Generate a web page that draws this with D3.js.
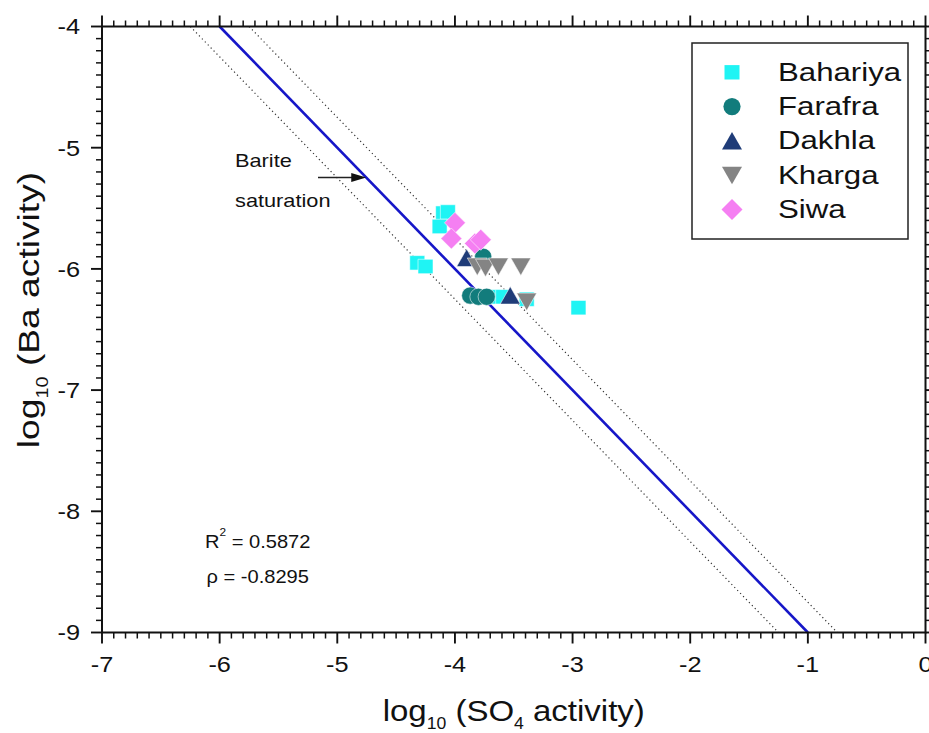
<!DOCTYPE html>
<html>
<head>
<meta charset="utf-8">
<script src="https://cdn.jsdelivr.net/npm/d3@7"></script>
<style>
  html, body { margin: 0; padding: 0; background: #fff; }
  svg { display: block; font-family: "Liberation Sans", Arial, sans-serif; }
  text { fill: #111; }
</style>
</head>
<body>
<svg id="chart" width="929" height="733"></svg>
<script>
// ---- data: log10 activities (x = SO4, y = Ba) per oasis ----
const bahariya = [[-4.10,-5.54],[-4.06,-5.53],[-4.13,-5.65],[-4.32,-5.95],[-4.25,-5.98],
                  [-3.68,-6.23],[-3.59,-6.23],[-3.39,-6.25],[-2.95,-6.32]];
const farafra  = [[-3.87,-6.22],[-3.80,-6.23],[-3.73,-6.23],[-3.76,-5.90]];
const dakhla   = [[-3.90,-5.91],[-3.53,-6.22]];
const kharga   = [[-3.81,-5.98],[-3.74,-5.99],[-3.63,-5.98],[-3.44,-5.98],[-3.39,-6.27]];
const siwa     = [[-4.00,-5.62],[-4.03,-5.75],[-3.83,-5.79],[-3.78,-5.76]];

const seriesNames  = ["Bahariya", "Farafra", "Dakhla", "Kharga", "Siwa"];
const seriesColors = ["#1ff4f4", "#127c7c", "#1f3c78", "#848484", "#f57ff2"];
const seriesShapes = ["square", "circle", "triangleUp", "triangleDown", "diamond"];

// barite saturation line (log Ba + log SO4 = -10) and its +/-0.25 band
const bariteLine = [[-6, -4], [-1, -9]];
const bandUpper  = [[-5.75, -4], [-0.75, -9]];
const bandLower  = [[-6.25, -4], [-1.25, -9]];

const xTickValues = [-7, -6, -5, -4, -3, -2, -1, 0];
const yTickValues = [-4, -5, -6, -7, -8, -9];
const xTickLabels = ["-7", "-6", "-5", "-4", "-3", "-2", "-1", "0"];
const yTickLabels = ["-4", "-5", "-6", "-7", "-8", "-9"];

const statR2  = "0.5872";
const statRho = "-0.8295";

// ---- layout ----
const svg = d3.select("#chart");
const x = d3.scaleLinear().domain([-7, 0]).range([102, 925.5]);
const y = d3.scaleLinear().domain([-4, -9]).range([26.5, 632.5]);
const MAJOR = 11, MINOR = 6;

// tick positions every 0.1 unit; whole numbers are the major ones
const xTickAll = d3.range(-70, 1).map(v => v / 10);
const yTickAll = d3.range(-90, -39).map(v => v / 10);
const isMajor = v => Math.abs(v - Math.round(v)) < 1e-6;

// text helper: glyphs are drawn slightly wide along the baseline
function label(parent, px, py, opts) {
  const o = Object.assign({ size: 20, sx: 1, anchor: "start", rotate: 0 }, opts);
  const g = parent.append("g")
    .attr("transform", `translate(${px},${py}) rotate(${o.rotate}) scale(${o.sx},1)`);
  return g.append("text").attr("font-size", o.size).attr("text-anchor", o.anchor);
}

// ---- reference lines ----
const line = d3.line().x(d => x(d[0])).y(d => y(d[1]));
[bandLower, bandUpper].forEach(b => {
  svg.append("path").datum(b).attr("d", line)
    .attr("fill", "none").attr("stroke", "#333").attr("stroke-width", 1.2)
    .attr("stroke-dasharray", "1.2,3");
});
svg.append("path").datum(bariteLine).attr("d", line)
  .attr("fill", "none").attr("stroke", "#1616c8").attr("stroke-width", 2.6);

// ---- frame and ticks (outward on all four sides) ----
const axes = svg.append("g").attr("stroke", "#111");
axes.append("rect")
  .attr("x", x(-7)).attr("y", y(-4))
  .attr("width", x(0) - x(-7)).attr("height", y(-9) - y(-4))
  .attr("fill", "none").attr("stroke-width", 2);

function hTicks(y0, dir) {
  axes.append("g").selectAll("line").data(xTickAll).join("line")
    .attr("x1", d => x(d)).attr("x2", d => x(d))
    .attr("y1", y0).attr("y2", d => y0 + dir * (isMajor(d) ? MAJOR : MINOR))
    .attr("stroke-width", d => isMajor(d) ? 1.9 : 1.5);
}
function vTicks(x0, dir) {
  axes.append("g").selectAll("line").data(yTickAll).join("line")
    .attr("y1", d => y(d)).attr("y2", d => y(d))
    .attr("x1", x0).attr("x2", d => x0 + dir * (isMajor(d) ? MAJOR : MINOR))
    .attr("stroke-width", d => isMajor(d) ? 1.9 : 1.5);
}
hTicks(y(-9), 1);
hTicks(y(-4), -1);
vTicks(x(-7), -1);
vTicks(x(0), 1);

// tick labels
xTickValues.forEach((v, i) => {
  label(svg, x(v), 672, { size: 22, sx: 1.15, anchor: "middle" }).text(xTickLabels[i]);
});
yTickValues.forEach((v, i) => {
  label(svg, 80, y(v) + 7.8, { size: 21.5, sx: 1.18, anchor: "end" }).text(yTickLabels[i]);
});

// axis titles
const xt = label(svg, (x(-7) + x(0)) / 2, 721, { size: 30, sx: 1.1, anchor: "middle" });
xt.append("tspan").text("log");
xt.append("tspan").attr("font-size", 16).attr("dy", 8).text("10");
xt.append("tspan").attr("dy", -8).text(" (SO");
xt.append("tspan").attr("font-size", 16).attr("dy", 8).text("4");
xt.append("tspan").attr("dy", -8).text(" activity)");

const yt = label(svg, 39, 310, { size: 30, sx: 1.24, anchor: "middle", rotate: -90 });
yt.append("tspan").text("log");
yt.append("tspan").attr("font-size", 16).attr("dy", 9).text("10");
yt.append("tspan").attr("dy", -9).text(" (Ba activity)");

// ---- annotation ----
label(svg, 235, 166.5, { size: 18.6, sx: 1.17 }).text("Barite");
label(svg, 235, 206.5, { size: 18.6, sx: 1.17 }).text("saturation");
const arrowY = -5.246;
const tipX = x(-10 - arrowY), tipY = y(arrowY);
svg.append("line").attr("x1", 318).attr("y1", tipY).attr("x2", tipX - 12).attr("y2", tipY)
  .attr("stroke", "#222").attr("stroke-width", 1.3);
svg.append("path")
  .attr("d", `M${tipX},${tipY} L${tipX - 15},${tipY - 4.5} L${tipX - 15},${tipY + 4.5} Z`)
  .attr("fill", "#111");

const r2 = label(svg, 205, 548.3, { size: 18.6, sx: 1.08 });
r2.append("tspan").text("R");
r2.append("tspan").attr("font-size", 11).attr("dy", -12).text("2");
r2.append("tspan").attr("dy", 12).text(" = " + statR2);
label(svg, 206.5, 583.3, { size: 18.6, sx: 1.08 }).text("\u03C1 = " + statRho);

// ---- markers ----
function shapePath(shape) {
  switch (shape) {
    case "square": return "M-7.5,-7.2 H7.5 V7.2 H-7.5 Z";
    case "circle": return d3.symbol(d3.symbolCircle, Math.PI * 8.6 * 8.6)();
    case "triangleUp": return "M0,-9 L10,8.5 L-10,8.5 Z";
    case "triangleDown": return "M0,9 L10,-8.5 L-10,-8.5 Z";
    case "diamond": return "M0,-10.5 L10.5,0 L0,10.5 L-10.5,0 Z";
  }
}

const allData = [bahariya, farafra, dakhla, kharga, siwa];
const series = seriesNames.map((name, i) => ({
  name, values: allData[i], color: seriesColors[i], shape: seriesShapes[i]
}));

const plot = svg.append("g");
series.forEach(s => {
  plot.append("g").selectAll("path").data(s.values).join("path")
    .attr("d", shapePath(s.shape))
    .attr("transform", d => `translate(${x(d[0])},${y(d[1])})`)
    .attr("fill", s.color)
    .attr("stroke", "#fff").attr("stroke-width", 0.9).attr("stroke-opacity", 0.6);
});

// ---- legend ----
const legend = svg.append("g");
legend.append("rect").attr("x", 692).attr("y", 43).attr("width", 216).attr("height", 196)
  .attr("fill", "#fff").attr("stroke", "#222").attr("stroke-width", 1.5);
series.forEach((s, i) => {
  const ry = 72.3 + i * 34.3;
  legend.append("path").attr("d", shapePath(s.shape))
    .attr("transform", `translate(732,${ry})`).attr("fill", s.color);
  label(legend, 778, ry + 8.5, { size: 26, sx: 1.2 }).text(s.name);
});
</script>
</body>
</html>
